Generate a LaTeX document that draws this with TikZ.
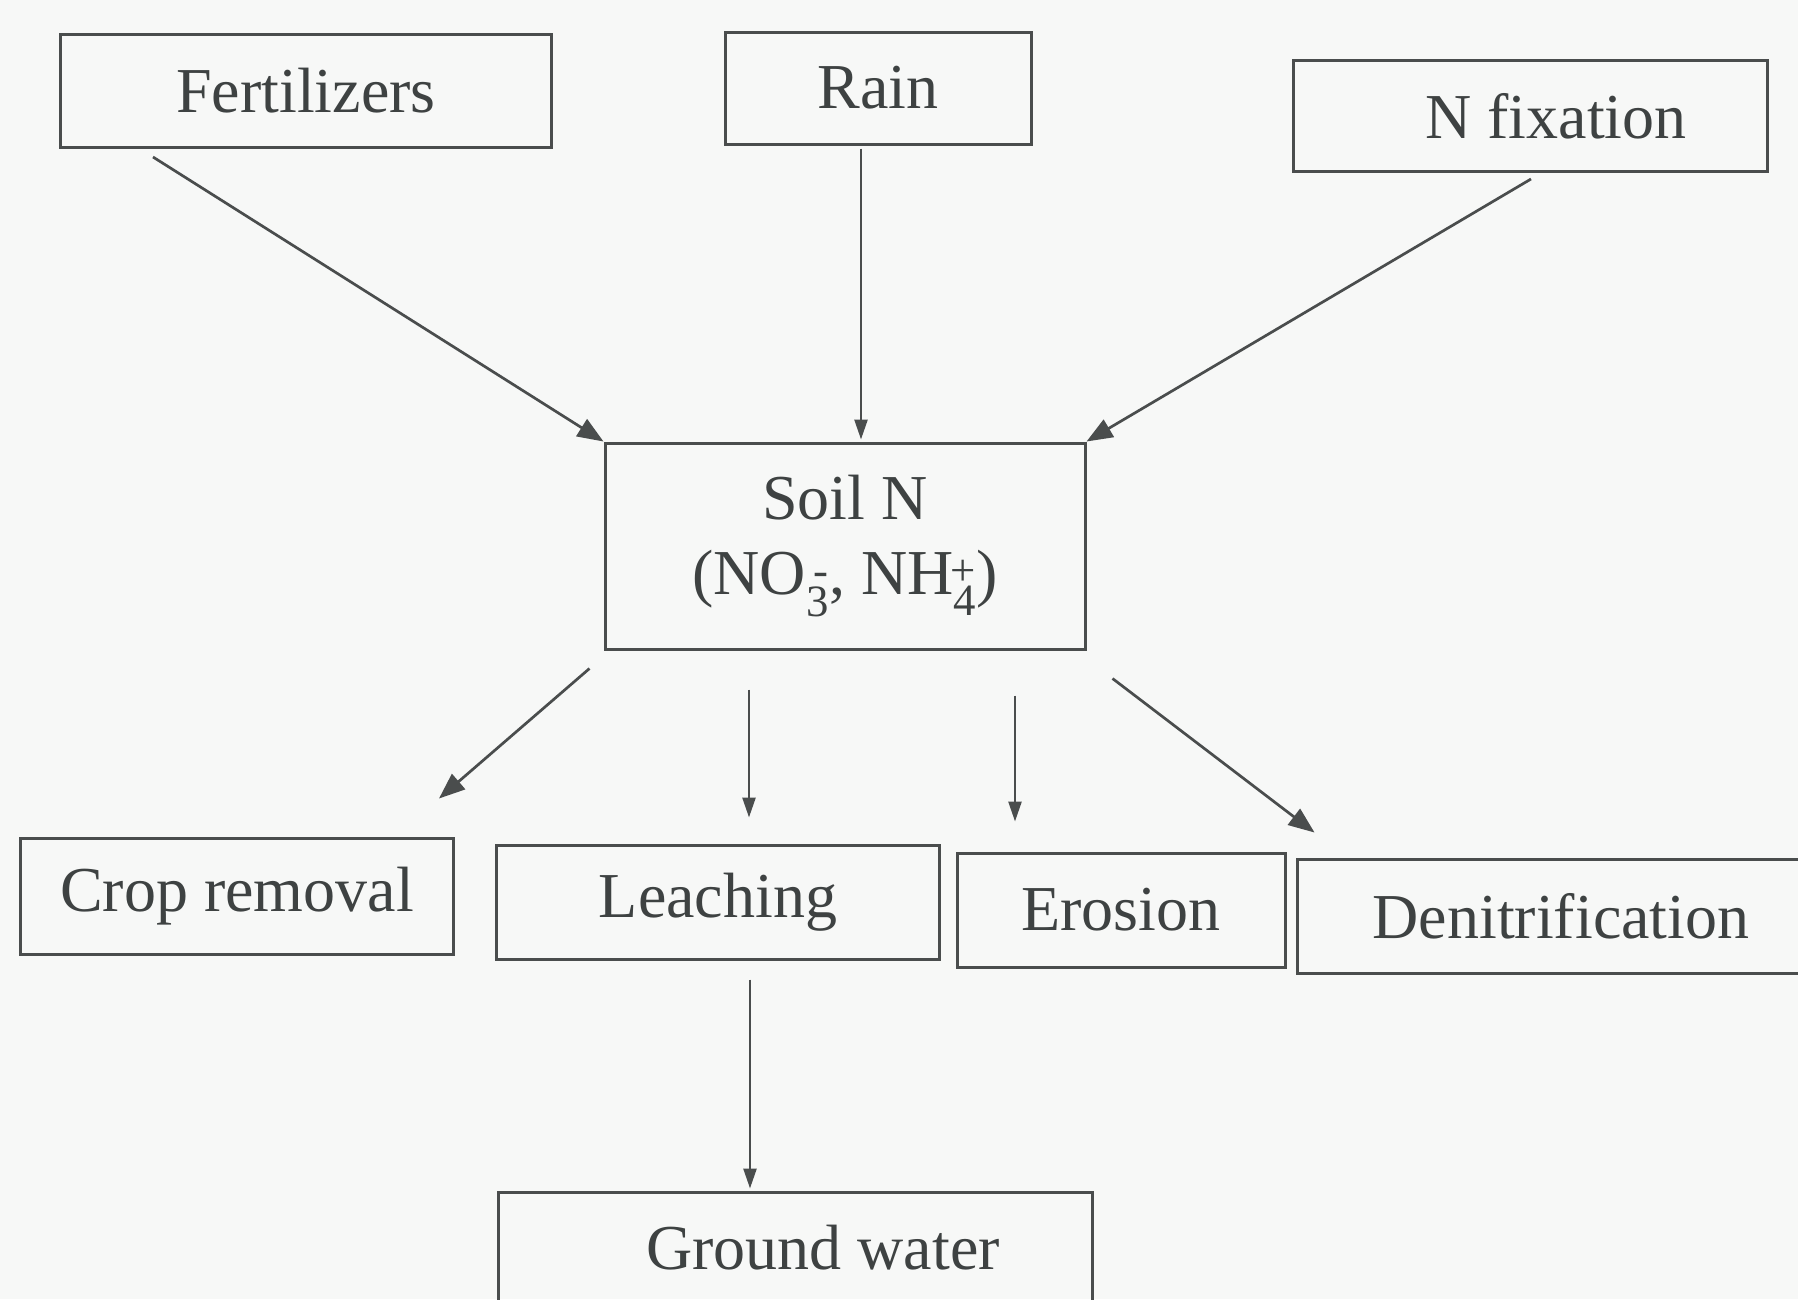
\documentclass[tikz,border=0pt]{standalone}
\usepackage{fontspec}
\setmainfont{Liberation Serif}
\usetikzlibrary{arrows.meta,calc}
\definecolor{ink}{HTML}{4A4D4D}
\definecolor{txt}{HTML}{3E4242}
\definecolor{paper}{HTML}{F7F8F7}
% ion with stacked subscript and superscript charge
\newcommand{\ionsb}[2]{\textsubscript{#1}\llap{\textsuperscript{#2}}}
\begin{document}
\begin{tikzpicture}[x=1pt,y=-1pt,
  box/.style={draw=ink, line width=3pt, rectangle, inner sep=0pt, text=txt,
    font=\fontsize{64}{75}\selectfont},
  arr/.style={draw=ink, line width=2.7pt, -{Triangle[length=26pt,width=20pt]}},
  arrs/.style={draw=ink, line width=2.5pt, -{Triangle[length=20pt,width=13pt]}}]
\fill[paper] (0,0) rectangle (1798,1299);
\useasboundingbox (0,0) rectangle (1798,1299);

% sources
\node[box, minimum width=491pt, minimum height=113pt] (fert) at (306,91) {Fertilizers};
\node[box, minimum width=306pt, minimum height=112pt] (rain) at (878,88) {Rain};
\node[box, minimum width=474pt, minimum height=111pt] (nfix) at (1530,116) {\hspace*{52pt}N fixation};

% soil pool
\node[box, minimum width=480pt, minimum height=206pt, align=center] (soil) at (845,546)
  {Soil N\\(NO\ionsb{3}{-}, NH\ionsb{4}{+})};

% losses
\node[box, minimum width=433pt, minimum height=116pt] (crop) at (237,896) {Crop removal};
\node[box, minimum width=443pt, minimum height=114pt] (leach) at (718,902) {Leaching};
\node[box, minimum width=328pt, minimum height=114pt] (eros) at (1121,910) {Erosion};
\node[box, minimum width=528pt, minimum height=114pt] (denit) at (1561,916) {Denitrification};
\node[box, minimum width=594pt, minimum height=112pt] (gw) at (795,1248) {\hspace*{56pt}Ground water};

% inputs
\draw[arr] ($(fert.south west)+(94,8)$) -- (soil.north west);
\draw[arrs] ($(rain.south)+(-17,3)$) -- ($(soil.north)+(16,-2)$);
\draw[arr] ($(nfix.south)+(1,6)$) -- (soil.north east);

% outputs
\draw[arr] ($(soil.south west)+(-14,18)$) -- ($(crop.north east)+(-16,-38)$);
\draw[arrs] ($(soil.south)+(-96,39)$) -- ($(leach.north)+(31,-26)$);
\draw[arrs] ($(soil.south)+(170,45)$) -- ($(eros.north)+(-106,-30)$);
\draw[arr] ($(soil.south east)+(26,28)$) -- ($(denit.north west)+(19,-25)$);
\draw[arrs] ($(leach.south)+(32,19)$) -- ($(gw.north)+(-45,-2)$);
\end{tikzpicture}
\end{document}
